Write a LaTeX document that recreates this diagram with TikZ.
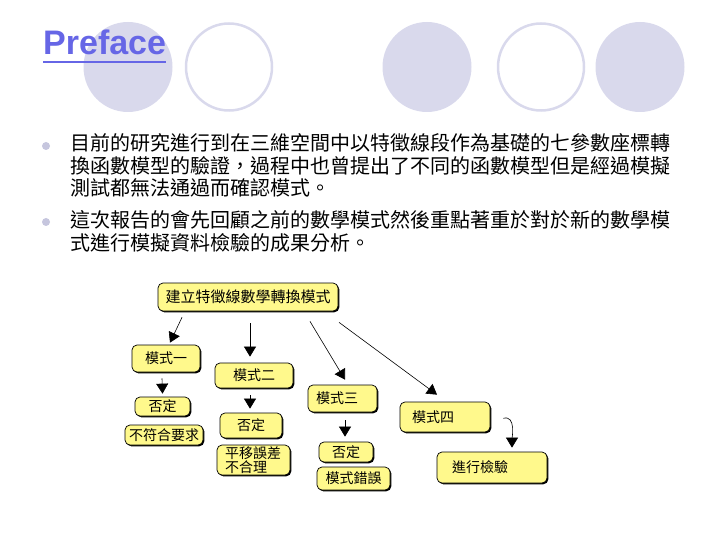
\documentclass[tikz,border=0pt]{standalone}
\usepackage{fontspec}
\setmainfont{Liberation Sans}
\newfontfamily\cjk{Noto Sans CJK TC}
\usetikzlibrary{positioning, arrows.meta, shadows, calc}
\definecolor{TitleBlue}{HTML}{6666E6}
\definecolor{Lavender}{HTML}{D9D9EC}
\definecolor{DotGrey}{HTML}{C6C6DE}
\definecolor{NoteYellow}{HTML}{FFF98C}

\begin{document}
\begin{tikzpicture}[
  x=1pt, y=-1pt,
  ybox/.style={draw=black, line width=0.7pt, rounded corners=5pt, fill=NoteYellow,
    drop shadow={shadow xshift=1.3pt, shadow yshift=-1.3pt, opacity=1, fill=black},
    inner sep=0pt, align=center, font=\cjk\fontsize{14}{14}\selectfont},
  para/.style={anchor=west, inner sep=0pt, font=\cjk\fontsize{20}{22}\selectfont},
  dot/.style={circle, fill=DotGrey, inner sep=0pt, minimum size=8pt},
  flow/.style={draw=black, line width=0.6pt, -{Triangle[width=12pt, length=10pt]}}
]
\useasboundingbox (0,0) rectangle (720,540);

% Header circles
\fill[Lavender] (128,67) ellipse [x radius=44.5, y radius=45];
\draw[Lavender, line width=2.5pt] (229,67) ellipse [x radius=43, y radius=43.5];
\fill[Lavender] (427,67) ellipse [x radius=44.5, y radius=45];
\draw[Lavender, line width=2.5pt] (541,67) ellipse [x radius=43, y radius=43.5];
\fill[Lavender] (640,67) ellipse [x radius=44.5, y radius=45];

% Title
\node[anchor=base west, inner sep=0pt, text=TitleBlue, font=\bfseries\fontsize{34}{34}\selectfont]
  (title) at (43,55) {Preface};
\draw[TitleBlue, line width=2pt] ([yshift=-7pt]title.base west) -- ([yshift=-7pt]title.base east);

% Bullets
\node[dot] (b_one) at (46,146) {};
\node[para] (l_one) at (70,143) {目前的研究進行到在三維空間中以特徵線段作為基礎的七參數座標轉};
\node[para] (l_two) at (70,165.5) {換函數模型的驗證，過程中也曾提出了不同的函數模型但是經過模擬};
\node[para] (l_three) at (70,188) {測試都無法通過而確認模式。};
\node[dot] (b_two) at (46,222) {};
\node[para] (l_four) at (70,220) {這次報告的會先回顧之前的數學模式然後重點著重於對於新的數學模};
\node[para] (l_five) at (70,243) {式進行模擬資料檢驗的成果分析。};

% Flow chart
\node[ybox, minimum width=180pt, minimum height=28pt, font=\cjk\fontsize{15}{15}\selectfont]
  (root) at (248,297) {建立特徵線數學轉換模式};

\node[ybox, minimum width=68pt, minimum height=27pt] (m_one) at (166,358.5) {模式一};
\node[ybox, minimum width=78pt, minimum height=25pt] (m_two) at (254,375.5) {模式二};
\node[ybox, minimum height=27pt, text width=53pt, inner xsep=8pt, align=left]
  (m_three) at (342.5,398.5) {模式三};
\node[ybox, minimum height=30pt, text width=66pt, inner xsep=12pt, align=left]
  (m_four) at (445,417) {模式四};

\node[ybox, minimum width=55pt, minimum height=19pt] (n_one) at (162.5,406.5) {否定};
\node[ybox, minimum width=78pt, minimum height=20pt] (r_one) at (164,435) {不符合要求};

\node[ybox, minimum width=62pt, minimum height=25pt] (n_two) at (251,425.5) {否定};
\node[ybox, minimum height=30pt, text width=57pt, inner xsep=8pt, align=left]
  (r_two) at (253.5,460) {平移誤差\\不合理};

\node[ybox, minimum width=54pt, minimum height=20pt] (n_three) at (346,452) {否定};
\node[ybox, minimum width=73pt, minimum height=23pt] (r_three) at (353.5,478.5) {模式錯誤};

\node[ybox, minimum height=31pt, text width=80pt, inner xsep=15pt, align=left]
  (check) at (492,467.5) {進行檢驗};

% Arrows from the root
\draw[flow] ([xshift=-66pt, yshift=-6pt]root.south) -- ([xshift=4pt, yshift=2pt]m_one.north);
\draw[flow] ([xshift=2pt, yshift=-12pt]root.south) -- ([xshift=-4pt, yshift=6pt]m_two.north);
\draw[flow] ([xshift=62pt, yshift=-10pt]root.south) -- ([xshift=2.5pt, yshift=5pt]m_three.north);
\draw[flow] ([xshift=91pt, yshift=-11pt]root.south) -- ([xshift=-8pt, yshift=7pt]m_four.north);

% Arrows below the models
\draw[flow] ([xshift=-4pt, yshift=-6pt]m_one.south) -- ([yshift=3pt]n_one.north);
\draw[flow] ([xshift=-4pt, yshift=-7pt]m_two.south) -- ([xshift=-1pt, yshift=4pt]n_two.north);
\draw[flow] ([xshift=2.5pt, yshift=-8pt]m_three.south) -- ([xshift=-1pt, yshift=5pt]n_three.north);
\draw[flow] ([xshift=13pt, yshift=14pt]m_four.south east)
  .. controls ([xshift=26pt, yshift=18pt]m_four.south east) and ([xshift=20pt, yshift=12pt]check.north) ..
  ([xshift=20pt, yshift=4pt]check.north);

\end{tikzpicture}
\end{document}
